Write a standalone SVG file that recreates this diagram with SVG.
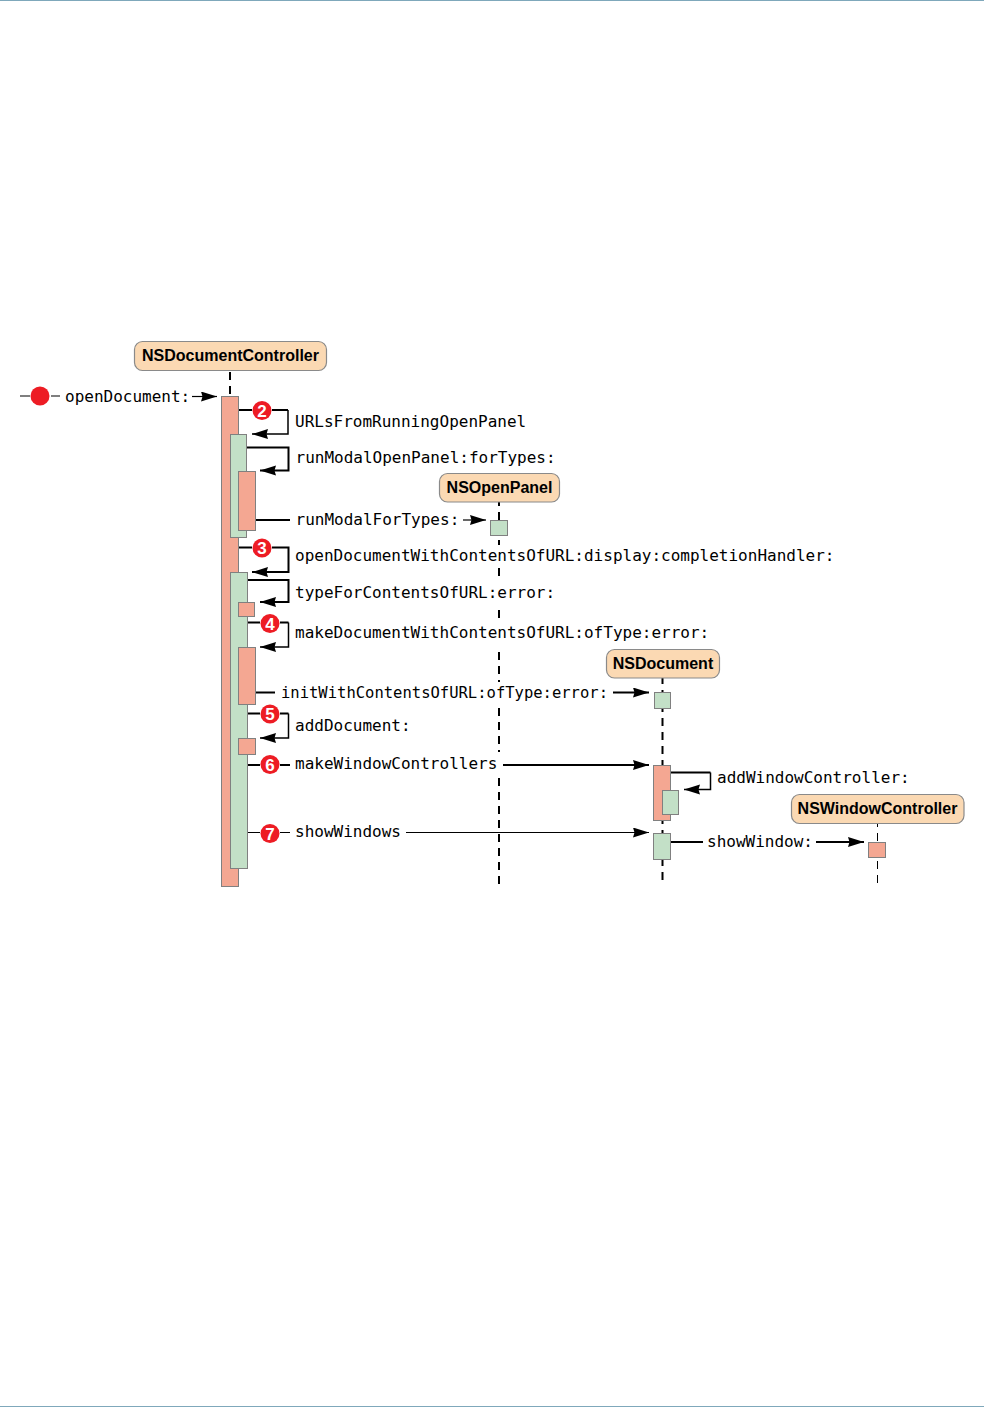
<svg xmlns="http://www.w3.org/2000/svg" width="984" height="1407" viewBox="0 0 984 1407">
<style>
.node{fill:#fbd9b3;stroke:#8a8a8a;stroke-width:1.2}
.nt{font:bold 16px "Liberation Sans",Arial,sans-serif;fill:#000;text-anchor:middle}
.o{fill:#f4a792;stroke:#808080;stroke-width:1}
.g{fill:#c3e0c7;stroke:#808080;stroke-width:1}
.ll{fill:none;stroke:#000;stroke-width:2;stroke-dasharray:8 6}
.c{fill:none;stroke:#000;stroke-width:2}
.t{fill:none;stroke:#000;stroke-width:1.2}
.l{font:16px "DejaVu Sans Mono","Liberation Mono",monospace;fill:#000}
.b{fill:#ed1c24}
.n{font:bold 17px "Liberation Sans",Arial,sans-serif;fill:#fff;text-anchor:middle}
</style>
<defs>
<marker id="ah" markerUnits="userSpaceOnUse" markerWidth="18" markerHeight="12" refX="16" refY="5" orient="auto">
<path d="M0 0L16 5L0 10L1.500 5Z" fill="#000"/>
</marker>
</defs>
<rect x="0" y="0" width="984" height="1" fill="#7fa8bb"/>
<rect x="0" y="1406" width="984" height="1" fill="#7fa8bb"/>
<g id="lifelines">
<path class="ll" d="M230 372V396"/>
<path class="ll" d="M499 498V884"/>
<path class="ll" d="M662.500 676V880"/>
<path class="ll" style="stroke-width:1" d="M877.500 819V884"/>
</g>
<g id="label-masks" fill="#fff">
<rect x="292" y="545" width="545" height="22"/>
<rect x="292" y="580" width="265" height="28"/>
<rect x="292" y="620" width="420" height="28"/>
<rect x="276" y="682" width="335" height="24"/>
<rect x="292" y="752" width="210" height="26"/>
</g>
<g id="connectors">
<path class="t" d="M20 396H30M51 396H60"/>
<path class="t" d="M192 396.500H217" marker-end="url(#ah)"/>
<path class="c" d="M239 410H252M272 410H288"/>
<path class="c" style="stroke-width:1.500" d="M288 410V434H252" marker-end="url(#ah)"/>
<path class="c" d="M247 447.500H288.500V470.500H260" marker-end="url(#ah)"/>
<path class="c" d="M256 520H290"/>
<path class="t" d="M463 520H486" marker-end="url(#ah)"/>
<path class="c" d="M239 547.500H252M272 547.500H288.500V572H252" marker-end="url(#ah)"/>
<path class="c" d="M247.500 580H288.500V602H260" marker-end="url(#ah)"/>
<path class="c" d="M248 622.500H260M280 622.500H288.500"/>
<path class="c" style="stroke-width:1.500" d="M288.500 622.500V647H260" marker-end="url(#ah)"/>
<path class="c" d="M256 692.500H275"/>
<path class="c" d="M613 692.500H649" marker-end="url(#ah)"/>
<path class="c" d="M248 713.500H260M280 713.500H288.500"/>
<path class="c" style="stroke-width:1.500" d="M288.500 713.500V738H260" marker-end="url(#ah)"/>
<path class="c" d="M248 765H260M280 765H290"/>
<path class="c" d="M503 765H649" marker-end="url(#ah)"/>
<path class="t" d="M248 832.500H260M280 832.500H290"/>
<path class="t" d="M406 832.500H649" marker-end="url(#ah)"/>
<path class="c" d="M671 772.500H710.500"/>
<path class="c" style="stroke-width:1.500" d="M710.500 772.500V789.500H684" marker-end="url(#ah)"/>
<path class="c" d="M671 842H703"/>
<path class="c" d="M816 842H864" marker-end="url(#ah)"/>
</g>
<g id="activations">
<rect class="o" x="221.500" y="396.500" width="17" height="490"/>
<rect class="g" x="230.500" y="434.500" width="16" height="103"/>
<rect class="o" x="238.500" y="471.500" width="17" height="59"/>
<rect class="g" x="230.500" y="572.500" width="17" height="296"/>
<rect class="o" x="238.500" y="602.500" width="16" height="14"/>
<rect class="o" x="238.500" y="647.500" width="17" height="57"/>
<rect class="o" x="238.500" y="738.500" width="17" height="16"/>
<rect class="g" x="490.500" y="520.500" width="17" height="15"/>
<rect class="g" x="654.500" y="692.500" width="16" height="16"/>
<rect class="o" x="653.500" y="765.500" width="17" height="55"/>
<rect class="g" x="662.500" y="790.500" width="16" height="24"/>
<rect class="g" x="653.500" y="833.500" width="17" height="26"/>
<rect class="o" x="868.500" y="842.500" width="17" height="15"/>
</g>
<g id="NSDocumentController"><rect class="node" x="134.500" y="341.500" width="192" height="29" rx="8"/><text class="nt" x="230.500" y="361">NSDocumentController</text></g>
<g id="NSOpenPanel"><rect class="node" x="439.500" y="473.500" width="120" height="28.500" rx="8"/><text class="nt" x="499.500" y="493">NSOpenPanel</text></g>
<g id="NSDocument"><rect class="node" x="606.500" y="649.500" width="113" height="28.500" rx="8"/><text class="nt" x="663" y="669">NSDocument</text></g>
<g id="NSWindowController"><rect class="node" x="791.500" y="794.500" width="172.500" height="29" rx="8"/><text class="nt" x="877.500" y="814">NSWindowController</text></g>
<g id="badges">
<circle class="b" cx="40" cy="396" r="9.500"/>
<circle class="b" cx="262" cy="410.500" r="9.500"/><text class="n" x="262" y="416.500">2</text>
<circle class="b" cx="262" cy="548" r="9.500"/><text class="n" x="262" y="554">3</text>
<circle class="b" cx="270" cy="623.500" r="9.500"/><text class="n" x="270" y="629.500">4</text>
<circle class="b" cx="270" cy="714" r="9.500"/><text class="n" x="270" y="720">5</text>
<circle class="b" cx="270" cy="764.500" r="9.500"/><text class="n" x="270" y="770.500">6</text>
<circle class="b" cx="270" cy="833.500" r="9.500"/><text class="n" x="270" y="839.500">7</text>
</g>
<g id="labels">
<text class="l" x="65" y="401.500">openDocument:</text>
<text class="l" x="295" y="427">URLsFromRunningOpenPanel</text>
<text class="l" x="295.500" y="463">runModalOpenPanel:forTypes:</text>
<text class="l" x="295.500" y="524.500">runModalForTypes:</text>
<text class="l" x="295" y="561">openDocumentWithContentsOfURL:display:completionHandler:</text>
<text class="l" x="295" y="598">typeForContentsOfURL:error:</text>
<text class="l" x="295" y="638">makeDocumentWithContentsOfURL:ofType:error:</text>
<text class="l" x="281" y="697.500" textLength="327" lengthAdjust="spacingAndGlyphs">initWithContentsOfURL:ofType:error:</text>
<text class="l" x="295" y="731">addDocument:</text>
<text class="l" x="295" y="769">makeWindowControllers</text>
<text class="l" x="295" y="836.500">showWindows</text>
<text class="l" x="717" y="783">addWindowController:</text>
<text class="l" x="707" y="846.500">showWindow:</text>
</g>
</svg>
